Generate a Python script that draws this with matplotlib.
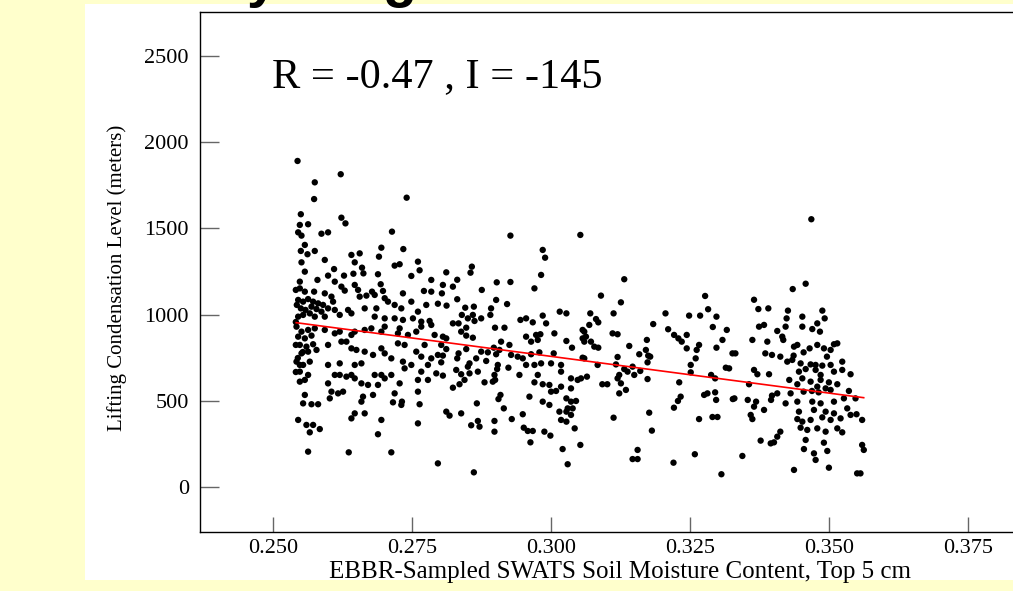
import numpy as np
import matplotlib
matplotlib.use("Agg")
import matplotlib.pyplot as plt
from matplotlib.patches import Rectangle

# ---- data (soil moisture, LCL in m) ----
band_255 = [
    (0.25444, 1891), (0.26221, 1814), (0.25754, 1767), (0.25742, 1670), (0.27407, 1678),
    (0.25503, 1582), (0.26233, 1562), (0.26306, 1529), (0.25485, 1520), (0.25634, 1524),
    (0.25455, 1477), (0.25515, 1458), (0.25874, 1469), (0.25993, 1477), (0.27143, 1481),
    (0.26952, 1388), (0.26909, 1336), (0.27347, 1380), (0.25575, 1404), (0.25503, 1369),
    (0.25623, 1350), (0.25754, 1369), (0.26413, 1346), (0.26562, 1355), (0.26473, 1303),
    (0.26604, 1272), (0.25934, 1317), (0.26101, 1264), (0.25515, 1303), (0.25575, 1249),
    (0.27191, 1284), (0.27281, 1292), (0.27610, 1307), (0.27640, 1257), (0.26891, 1234),
    (0.27491, 1224), (0.27850, 1201), (0.26280, 1226), (0.26449, 1237), (0.26629, 1239),
    (0.25485, 1191), (0.25802, 1201), (0.25993, 1226), (0.26114, 1191), (0.26233, 1162),
    (0.26293, 1139), (0.26473, 1172), (0.26533, 1143), (0.26940, 1176), (0.26784, 1133),
    (0.26832, 1114), (0.26981, 1137), (0.27012, 1095), (0.27340, 1123), (0.27718, 1137),
    (0.27850, 1133), (0.25485, 1152), (0.25575, 1133), (0.25742, 1133), (0.25934, 1123),
    (0.26562, 1104), (0.26683, 1110), (0.26054, 1104), (0.26083, 1075), (0.25455, 1085),
    (0.25544, 1075), (0.25634, 1090), (0.25724, 1075), (0.25814, 1065), (0.25903, 1056),
    (0.25503, 1036), (0.25587, 1027), (0.25695, 1046), (0.25785, 1032), (0.25874, 1017),
    (0.25993, 1036), (0.25455, 988), (0.25544, 998), (0.25664, 1007), (0.25754, 988),
    (0.25934, 988), (0.26114, 1027), (0.26203, 998), (0.26353, 1027), (0.26413, 1007),
    (0.27071, 1075), (0.27191, 1056), (0.27311, 1036), (0.27491, 1075), (0.27610, 1017),
    (0.27760, 1056), (0.26652, 1036), (0.26862, 1036), (0.26832, 988), (0.27012, 978),
    (0.27191, 978), (0.27340, 969), (0.27520, 978), (0.27670, 959), (0.27820, 963),
    (0.25425, 930), (0.25515, 901), (0.25634, 911), (0.25754, 920), (0.25455, 872),
    (0.25575, 862), (0.25695, 878), (0.25485, 824), (0.25604, 814), (0.25724, 828),
    (0.25515, 775), (0.25634, 785), (0.25785, 795), (0.25934, 911), (0.26114, 891),
    (0.26203, 901), (0.26413, 882), (0.26473, 901), (0.26652, 911), (0.26772, 920),
    (0.26952, 901), (0.27012, 930), (0.27250, 891), (0.27281, 920), (0.27430, 882),
    (0.27580, 901), (0.27670, 930), (0.27850, 940), (0.25993, 824), (0.26233, 843),
    (0.26323, 843), (0.26413, 804), (0.26503, 795), (0.26652, 785), (0.26802, 766),
    (0.26952, 804), (0.27012, 775), (0.27131, 746), (0.27250, 833), (0.27370, 824),
    (0.27580, 785), (0.27670, 756), (0.27850, 746), (0.27730, 824), (0.25425, 727),
    (0.25544, 708), (0.25664, 727), (0.25485, 669), (0.25634, 650), (0.25575, 621),
    (0.25485, 611), (0.25993, 708), (0.26203, 717), (0.26473, 708), (0.26593, 717),
    (0.26413, 650), (0.26114, 650), (0.26203, 650), (0.26323, 640), (0.26473, 630),
    (0.26593, 601), (0.26712, 592), (0.26832, 650), (0.26952, 650), (0.27012, 630),
    (0.26891, 592), (0.27131, 650), (0.27281, 601), (0.27340, 727), (0.27370, 688),
    (0.27491, 708), (0.27610, 621), (0.27670, 669), (0.27790, 621), (0.27790, 708),
    (0.25575, 534), (0.25544, 485), (0.25695, 480), (0.25814, 480), (0.25993, 601),
    (0.26054, 553), (0.26024, 514), (0.26173, 543), (0.26263, 553), (0.26622, 524),
    (0.26593, 495), (0.26802, 534), (0.26473, 427), (0.26413, 398), (0.26652, 427),
    (0.25455, 389), (0.25604, 360), (0.25724, 360), (0.25844, 336), (0.25664, 317),
    (0.26952, 389), (0.26891, 306), (0.27191, 543), (0.27161, 491), (0.27322, 495),
    (0.27311, 476), (0.27610, 553), (0.27640, 480), (0.27610, 369), (0.25634, 205),
    (0.26365, 201), (0.27131, 201), (0.25413, 957), (0.25413, 824), (0.25449, 748),
    (0.25413, 667), (0.25485, 708), (0.25539, 783), (0.25431, 1056), (0.25413, 1143),
]

band_285 = [
    (0.29274, 1458), (0.30532, 1462), (0.29855, 1375), (0.29898, 1330), (0.29826, 1230),
    (0.29706, 1152), (0.28580, 1278), (0.28556, 1243), (0.28120, 1245), (0.28317, 1202),
    (0.28239, 1162), (0.28059, 1172), (0.28041, 1123), (0.29028, 1187), (0.29274, 1189),
    (0.28759, 1143), (0.28317, 1089), (0.29017, 1085), (0.29214, 1061), (0.27969, 1063),
    (0.28125, 1052), (0.28461, 1040), (0.28616, 1046), (0.28926, 1036), (0.28913, 998),
    (0.30161, 1017), (0.30281, 1007), (0.29855, 994), (0.28400, 998), (0.28508, 978),
    (0.28598, 998), (0.28748, 978), (0.28628, 963), (0.29454, 969), (0.29556, 978),
    (0.29676, 955), (0.28239, 949), (0.28341, 949), (0.28479, 924), (0.29916, 949),
    (0.28997, 924), (0.29167, 924), (0.30065, 891), (0.30573, 911), (0.30573, 862),
    (0.27910, 882), (0.28059, 872), (0.28120, 862), (0.28388, 901), (0.28479, 878),
    (0.28598, 866), (0.29556, 872), (0.29736, 882), (0.29813, 886), (0.29646, 843),
    (0.29766, 853), (0.30281, 847), (0.30382, 808), (0.29106, 843), (0.29256, 824),
    (0.28029, 824), (0.28120, 800), (0.27969, 766), (0.28059, 762), (0.28341, 775),
    (0.28317, 746), (0.28479, 800), (0.28748, 785), (0.28868, 781), (0.28975, 808),
    (0.29077, 795), (0.29017, 770), (0.29286, 766), (0.29405, 756), (0.29496, 746),
    (0.29646, 770), (0.29795, 781), (0.30053, 775), (0.30573, 750), (0.28658, 746),
    (0.28838, 731), (0.28538, 717), (0.28508, 698), (0.28029, 723), (0.29047, 708),
    (0.29035, 684), (0.29238, 692), (0.29556, 708), (0.29706, 708), (0.29826, 717),
    (0.30005, 717), (0.30185, 708), (0.30185, 669), (0.28299, 679), (0.28388, 654),
    (0.28538, 659), (0.28688, 669), (0.27940, 659), (0.28059, 646), (0.29436, 650),
    (0.29766, 650), (0.28987, 650), (0.28999, 621), (0.30364, 630), (0.30484, 621),
    (0.30544, 630), (0.28448, 621), (0.28358, 596), (0.28239, 576), (0.28808, 607),
    (0.28957, 611), (0.29706, 607), (0.29855, 596), (0.29975, 592), (0.30185, 582),
    (0.30095, 557), (0.30005, 553), (0.30364, 572), (0.29095, 534), (0.29059, 510),
    (0.29616, 524), (0.28670, 485), (0.29855, 495), (0.29975, 476), (0.30281, 514),
    (0.30364, 495), (0.30454, 499), (0.30304, 456), (0.30394, 456), (0.30155, 437),
    (0.30281, 437), (0.30364, 418), (0.30185, 389), (0.30281, 379), (0.30430, 340),
    (0.28120, 437), (0.28179, 414), (0.28388, 427), (0.29155, 456), (0.29496, 422),
    (0.29298, 394), (0.28688, 383), (0.28718, 350), (0.28568, 358), (0.28987, 383),
    (0.28987, 321), (0.29514, 344), (0.29586, 325), (0.29676, 325), (0.29885, 321),
    (0.29993, 298), (0.29634, 259), (0.30213, 220), (0.30532, 244), (0.27969, 137),
    (0.28616, 85), (0.30304, 132),
]

band_310 = [
    (0.31322, 1205), (0.30903, 1110), (0.31262, 1071), (0.30711, 1007), (0.31130, 1007),
    (0.30814, 974), (0.30855, 955), (0.30693, 940), (0.30603, 901), (0.30633, 872),
    (0.30603, 843), (0.31112, 891), (0.31202, 886), (0.30723, 843), (0.30783, 814),
    (0.30855, 808), (0.31412, 818), (0.31729, 853), (0.31711, 795), (0.31592, 770),
    (0.31753, 762), (0.31789, 756), (0.31741, 723), (0.32064, 1007), (0.32489, 994),
    (0.32687, 994), (0.32777, 1108), (0.32831, 1031), (0.32981, 988), (0.32112, 915),
    (0.32915, 928), (0.33167, 911), (0.31843, 945), (0.32219, 882), (0.32296, 862),
    (0.32356, 843), (0.32446, 882), (0.32668, 824), (0.32625, 795), (0.32446, 804),
    (0.32981, 808), (0.33089, 853), (0.33269, 775), (0.32607, 746), (0.32518, 708),
    (0.32518, 665), (0.30603, 746), (0.30843, 708), (0.31202, 754), (0.31173, 711),
    (0.31232, 650), (0.31322, 684), (0.31382, 669), (0.31472, 698), (0.31502, 650),
    (0.31610, 673), (0.30651, 640), (0.31202, 630), (0.31262, 601), (0.31352, 563),
    (0.31232, 543), (0.30927, 596), (0.31017, 596), (0.31741, 626), (0.32311, 607),
    (0.33149, 692), (0.33209, 688), (0.32885, 650), (0.32957, 630), (0.32759, 534),
    (0.32819, 543), (0.32957, 549), (0.32975, 505), (0.33275, 510), (0.32337, 524),
    (0.32288, 499), (0.32216, 460), (0.31771, 431), (0.31130, 402), (0.31819, 327),
    (0.32668, 394), (0.32909, 406), (0.32999, 406), (0.31562, 215), (0.31472, 162),
    (0.31562, 162), (0.32208, 141), (0.32592, 190), (0.33070, 74),
]

band_345 = [
    (0.34688, 1553), (0.34586, 1179), (0.34353, 1148), (0.33657, 1086), (0.33735, 1032),
    (0.33914, 1036), (0.34267, 1023), (0.34243, 978), (0.34886, 1023), (0.34526, 988),
    (0.34928, 978), (0.33747, 930), (0.33837, 940), (0.34225, 930), (0.34075, 905),
    (0.34526, 930), (0.34705, 916), (0.34795, 949), (0.34843, 901), (0.33627, 853),
    (0.33896, 843), (0.34183, 853), (0.34165, 872), (0.34436, 824), (0.34376, 814),
    (0.34795, 824), (0.34915, 804), (0.35095, 828), (0.35155, 833), (0.35035, 795),
    (0.33322, 775), (0.33860, 775), (0.33980, 766), (0.34130, 756), (0.34369, 762),
    (0.34549, 781), (0.34657, 804), (0.34969, 756), (0.34255, 727), (0.34345, 737),
    (0.34495, 717), (0.34675, 711), (0.34765, 708), (0.34885, 704), (0.35035, 708),
    (0.35244, 727), (0.33657, 679), (0.33717, 654), (0.33927, 654), (0.34465, 669),
    (0.34586, 684), (0.34765, 679), (0.34855, 650), (0.35095, 669), (0.35244, 679),
    (0.35394, 654), (0.34291, 621), (0.34526, 630), (0.34675, 611), (0.34855, 621),
    (0.35004, 607), (0.35155, 596), (0.34436, 596), (0.34795, 582), (0.34945, 572),
    (0.33567, 596), (0.34075, 543), (0.33980, 530), (0.34315, 543), (0.34549, 553),
    (0.34699, 557), (0.34819, 549), (0.35035, 563), (0.35364, 557), (0.33304, 514),
    (0.33544, 505), (0.33694, 495), (0.33963, 505), (0.34225, 485), (0.34436, 495),
    (0.34705, 495), (0.34855, 485), (0.35095, 495), (0.35274, 514), (0.35483, 514),
    (0.33657, 466), (0.33837, 447), (0.34465, 437), (0.34735, 447), (0.34945, 437),
    (0.35095, 427), (0.35334, 456), (0.33597, 418), (0.33627, 394), (0.34436, 394),
    (0.34526, 379), (0.34675, 389), (0.34885, 404), (0.35035, 389), (0.35214, 398),
    (0.35394, 418), (0.35501, 422), (0.35602, 389), (0.34495, 344), (0.34615, 331),
    (0.34795, 340), (0.34945, 321), (0.35155, 340), (0.35244, 317), (0.34130, 321),
    (0.34075, 292), (0.34586, 273), (0.34914, 257), (0.33776, 269), (0.33957, 253),
    (0.34016, 259), (0.34555, 220), (0.34735, 195), (0.34765, 157), (0.34975, 209),
    (0.35602, 244), (0.35632, 215), (0.33447, 180), (0.34376, 99), (0.35004, 112),
    (0.35512, 79), (0.35572, 79),
]

# regression line as drawn (end points)
fit_x = [0.2542, 0.3563]
fit_y = [953, 518]

x_ticks = [0.250, 0.275, 0.300, 0.325, 0.350, 0.375]
y_ticks = [0, 500, 1000, 1500, 2000, 2500]
stats_text = "R = -0.47 , I = -145"

pts = np.array(band_255 + band_285 + band_310 + band_345)
sm, lcl = pts[:, 0], pts[:, 1]

W, H = 1013, 591
fig = plt.figure(figsize=(W / 100, H / 100), dpi=100, facecolor="#FFFFCC")

# white slide panel (behind the axes)
fig.patches.append(Rectangle((85 / W, 1 - 580 / H), 1 - 85 / W, (580 - 4) / H,
                             transform=fig.transFigure, facecolor="white",
                             edgecolor="none", zorder=-5))

# bottom of the slide title peeking in at the top
fig.text(262 / W, 1 + 3.5 / H, "y", fontsize=40, fontweight="bold",
         family="Liberation Sans", ha="center", va="baseline")
fig.text(400 / W, 1 + 3.5 / H, "g", fontsize=40, fontweight="bold",
         family="Liberation Sans", ha="center", va="baseline")

ax = fig.add_axes([200 / W, 1 - 532 / H, (1051 - 200) / W, (532 - 12) / H])
ax.set_zorder(2)
ax.set_facecolor("white")
ax.scatter(sm, lcl, s=21, color="black", edgecolors="none", zorder=2)
ax.plot(fit_x, fit_y, color="red", lw=1.2, zorder=3)

ax.set_xlim(0.23689, 0.390)
ax.set_ylim(-261, 2755)
ax.set_xticks(x_ticks)
ax.set_xticklabels([f"{v:.3f}" for v in x_ticks])
ax.set_yticks(y_ticks)

serif = "Liberation Serif"
ax.tick_params(axis="y", direction="in", length=14, width=1, color="#666666",
               pad=8, labelsize=16)
ax.tick_params(axis="x", direction="in", length=11, width=1, color="#666666",
               pad=5, labelsize=16)
for lab in ax.get_xticklabels() + ax.get_yticklabels():
    lab.set_family(serif)

for side in ["left", "bottom", "top"]:
    ax.spines[side].set_color("black")
    ax.spines[side].set_linewidth(1)
ax.spines["right"].set_visible(False)

fig.text(117 / W, 1 - 278 / H, "Lifting Condensation Level (meters)",
         rotation=90, fontsize=15, family=serif, ha="center", va="center")
fig.text(620 / W, 1 - 578 / H, "EBBR-Sampled SWATS Soil Moisture Content, Top 5 cm",
         fontsize=18, family=serif, ha="center", va="baseline")
fig.text(272 / W, 1 - 87 / H, stats_text, fontsize=30.5, family=serif,
         ha="left", va="baseline")

fig.savefig("out.png", dpi=100, facecolor=fig.get_facecolor())
